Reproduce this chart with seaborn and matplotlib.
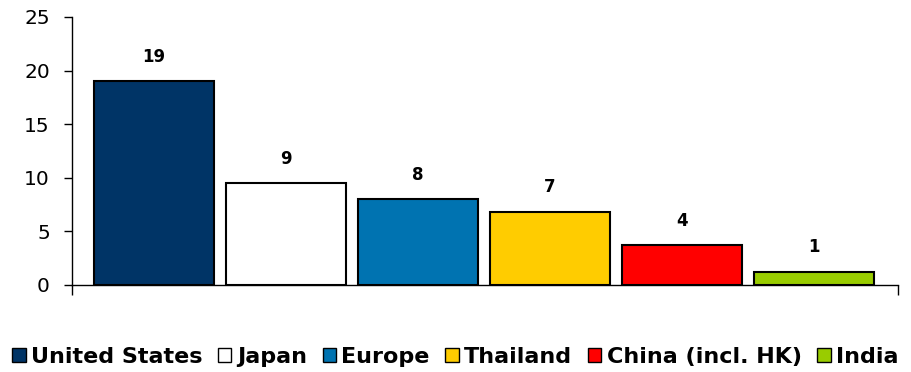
import matplotlib
matplotlib.use("Agg")
import matplotlib.pyplot as plt
from matplotlib.patches import Patch
import seaborn as sns
import pandas as pd

categories = ["United States", "Japan", "Europe", "Thailand", "China (incl. HK)", "India"]
values = [19.05, 9.5, 8.0, 6.85, 3.75, 1.25]
labels = ["19", "9", "8", "7", "4", "1"]
colors = ["#003466", "#FFFFFF", "#0073B1", "#FFCC00", "#FF0000", "#99CC00"]
yticks = [0, 5, 10, 15, 20, 25]

sns.set_style("white")
plt.rcParams["font.family"] = ["DejaVu Sans"]
plt.rcParams["text.color"] = "black"
plt.rcParams["xtick.color"] = "black"
plt.rcParams["ytick.color"] = "black"

df = pd.DataFrame({"country": categories, "value": values})

fig = plt.figure(figsize=(9.11, 3.72), dpi=100)
ax = fig.add_axes([72 / 911, 1 - 285 / 372, (898 - 72) / 911, (285 - 17) / 372])

sns.barplot(data=df, x="country", y="value", hue="country", hue_order=categories,
            order=categories, palette=colors, saturation=1, edgecolor="black",
            linewidth=1.5, width=0.91, dodge=False, legend=False, ax=ax)

for cont, lab in zip(ax.containers, labels):
    ax.bar_label(cont, labels=[lab], padding=11, fontsize=12, fontweight="bold", color="black")

ax.set_ylim(0, 25)
ax.set_xlim(-0.62, 5.64)
ax.set_yticks(yticks)
ax.set_yticklabels([str(t) for t in yticks], fontsize=14.5, color="black")
ax.set_xticks([-0.62, 5.64])
ax.set_xticklabels(["", ""])
ax.set_xlabel("")
ax.set_ylabel("")
for s in ["top", "right"]:
    ax.spines[s].set_visible(False)
for s in ["left", "bottom"]:
    ax.spines[s].set_color("black")
    ax.spines[s].set_linewidth(1.0)
ax.tick_params(axis="y", direction="out", length=6, width=1, color="black", left=True, pad=10)
ax.tick_params(axis="x", direction="out", length=7, width=1, color="black", bottom=True)

handles = [Patch(facecolor=c, edgecolor="black", linewidth=1.0) for c in colors]
leg = fig.legend(handles, categories, loc="center", bbox_to_anchor=(0.5, 1 - 357 / 372),
                 ncol=6, frameon=False, handlelength=0.6, handleheight=0.6,
                 handletextpad=0.25, columnspacing=0.7,
                 prop={"weight": "bold", "size": 16})
for t in leg.get_texts():
    t.set_color("black")

fig.savefig("out.png", dpi=100)
